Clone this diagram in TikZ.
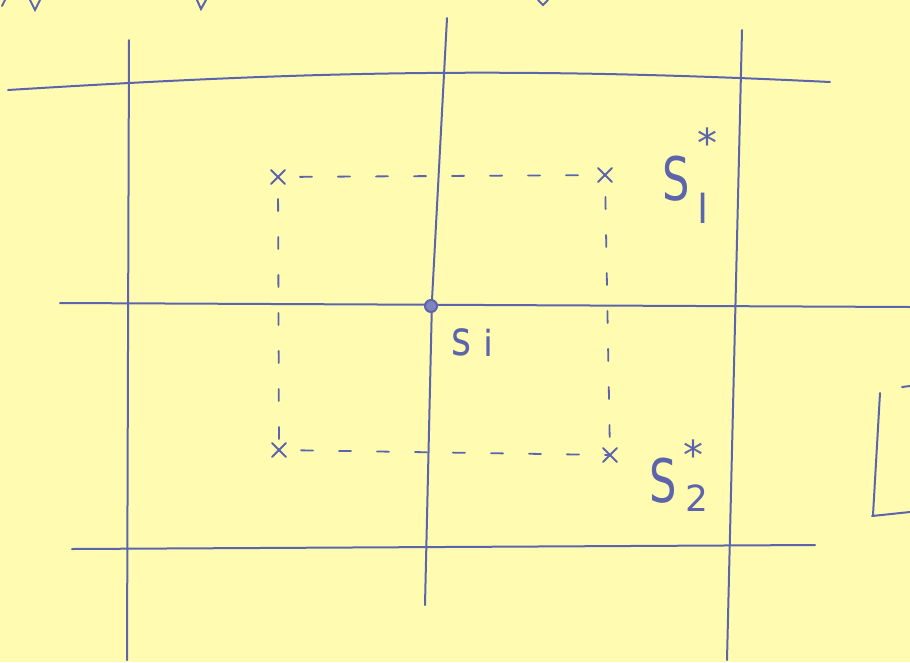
\documentclass[tikz,border=0pt]{standalone}
\usepackage{fontspec}
\setsansfont{DejaVu Sans}
\definecolor{paper}{RGB}{255,252,178}
\definecolor{ink}{RGB}{92,100,172}
\begin{document}
\begin{tikzpicture}[x=1pt,y=-1pt,
  pen/.style={draw=ink,line width=2pt,line cap=round},
  dsh/.style={pen,line width=1.8pt,dash pattern=on 12pt off 26pt},
  cross/.style={pen,line width=1.8pt},
  lbl/.style={text=ink,inner sep=0pt,font=\sffamily\fontsize{60}{60}\selectfont\addfontfeatures{FakeStretch=0.72}},
  sub/.style={text=ink,inner sep=0pt,font=\sffamily\fontsize{36}{36}\selectfont},
  star/.style={text=ink,inner sep=0pt,font=\sffamily\fontsize{40}{40}\selectfont}]
\fill[paper] (0,0) rectangle (910,662);
\useasboundingbox (0,0) rectangle (910,662);
% partial writing at the top edge
\draw[pen] (2,6) -- (5,0);
\draw[pen] (30,0) -- (35,10) -- (40,0);
\draw[pen] (197,0) -- (201,9) -- (206,0);
\draw[pen] (538,0) -- (543,5) -- (548,0);
% grid lines
\coordinate (v1t) at (129,40);  \coordinate (v1b) at (127,660);
\coordinate (v2t) at (447,18);  \coordinate (v2b) at (425,605);
\coordinate (v3t) at (742,30);  \coordinate (v3b) at (727,660);
\coordinate (h1l) at (8,90);    \coordinate (h1r) at (830,82);
\coordinate (h2l) at (60,303);  \coordinate (h2r) at (910,307);
\coordinate (h3l) at (72,549);  \coordinate (h3r) at (815,545);
\draw[pen] (v1t) -- (v1b);
\draw[pen] (v2t) -- (432,300) -- (v2b);
\draw[pen] (v3t) -- (v3b);
\draw[pen] (h1l) .. controls (300,72) and (500,66) .. (h1r);
\draw[pen] (h2l) -- (h2r);
\draw[pen] (h3l) -- (h3r);
% corners of the dashed box
\coordinate (c1) at (278,177);
\coordinate (c2) at (605,175);
\coordinate (c3) at (279,450);
\coordinate (c4) at (610,455);
\foreach \c in {c1,c2,c3,c4}{
  \draw[cross] ([shift={(-7,-7)}]\c) -- ([shift={(7,7)}]\c);
  \draw[cross] ([shift={(-7,7)}]\c) -- ([shift={(7,-7)}]\c);
}
\draw[dsh,dash phase=-22pt] (c1) -- (c2);
\draw[dsh,dash phase=-22pt] (c3) -- (c4);
\draw[dsh,dash phase=-22pt] (c1) -- (c3);
\draw[dsh,dash phase=-22pt] (c2) -- (c4);
% central point
\node[circle,draw=ink,fill=ink!80,line width=2pt,minimum size=12pt,inner sep=0pt] (si) at (431,306) {};
\node[lbl,font=\sffamily\fontsize{48}{48}\selectfont\addfontfeatures{FakeStretch=0.8}] (silabel) at (461,342) {s};
\node[sub,font=\sffamily\fontsize{36}{36}\selectfont] (silabeli) at (488,343) {i};
% labels S1*, S2*
\node[lbl] (s1) at (676,179) {S};
\node[sub,font=\sffamily\fontsize{40}{40}\selectfont] (s1i) at (703,208) {l};
\node[star] (s1s) at (707,143) {*};
\node[lbl] (s2) at (663,481) {S};
\node[sub] (s2i) at (697,498) {2};
\node[star] (s2s) at (693,455) {*};
% partial box at the right edge
\coordinate (pb1) at (880,393);
\coordinate (pb2) at (873,515);
\draw[pen] (pb1) -- (pb2);
\draw[pen] (872,516) -- (910,512);
\draw[pen] (902,387) -- (910,386);
\end{tikzpicture}
\end{document}
